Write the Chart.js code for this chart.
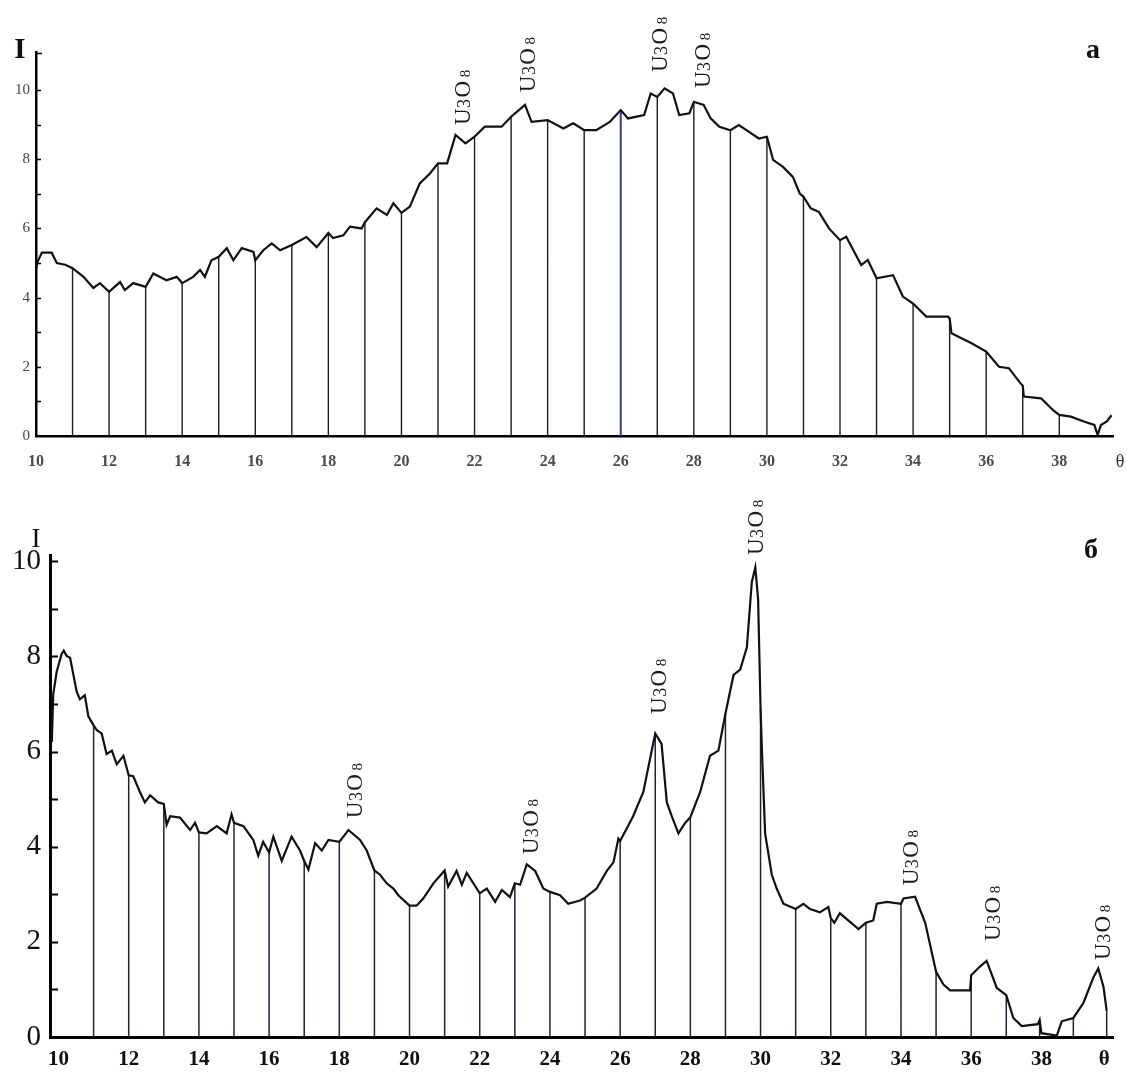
<!DOCTYPE html>
<html><head><meta charset="utf-8">
<script src="https://cdn.jsdelivr.net/npm/chart.js@4/dist/chart.umd.min.js"></script>
<style>
html,body{margin:0;padding:0;background:#fff;}
#wrapA{position:absolute;left:0;top:0;width:1127px;height:480px;}
#wrapB{position:absolute;left:0;top:480px;width:1127px;height:592px;}
canvas{display:block;}
</style></head><body>
<div id="wrapA"><canvas id="cA" width="1127" height="480"></canvas></div>
<div id="wrapB"><canvas id="cB" width="1127" height="592"></canvas></div>
<script>
// ---------- shared tick labels ----------
const xTicks = [10,12,14,16,18,20,22,24,26,28,30,32,34,36,38];
const yTicks = [0,2,4,6,8,10];
const yMinor = [1,2,3,4,5,6,7,8,9,10];

// ---------- panel а ----------
const thetaA = [
 10, 10.05, 10.16, 10.43, 10.57, 10.8, 11, 11.3, 11.57, 11.75,
 12, 12.3, 12.43, 12.66, 13, 13.21, 13.57, 13.85, 14, 14.3,
 14.49, 14.62, 14.8, 15, 15.22, 15.4, 15.63, 15.95, 16, 16.22,
 16.45, 16.68, 17, 17.4, 17.68, 18, 18.13, 18.41, 18.59, 18.91,
 19, 19.32, 19.6, 19.78, 20, 20.23, 20.5, 20.78, 21, 21.25,
 21.48, 21.75, 22, 22.28, 22.74, 23, 23.38, 23.56, 24, 24.43,
 24.7, 25, 25.33, 25.7, 26, 26.2, 26.64, 26.82, 27, 27.2,
 27.43, 27.6, 27.88, 28, 28.27, 28.46, 28.7, 29, 29.23, 29.5,
 29.78, 30, 30.17, 30.44, 30.71, 30.9, 31, 31.2, 31.42, 31.7,
 32, 32.17, 32.58, 32.76, 33, 33.45, 33.72, 34, 34.36, 34.95,
 35, 35.05, 35.6, 36, 36.35, 36.62, 36.94, 37, 37.03, 37.5,
 37.83, 38, 38.32, 38.69, 38.96, 39.05, 39.14, 39.3, 39.43
];
const intensityA = [
 4.85, 5.05, 5.3, 5.3, 5.0, 4.95, 4.85, 4.6, 4.28, 4.42,
 4.17, 4.45, 4.22, 4.42, 4.31, 4.7, 4.5, 4.6, 4.42, 4.6,
 4.8, 4.6, 5.08, 5.18, 5.43, 5.08, 5.43, 5.32, 5.08, 5.37,
 5.57, 5.37, 5.52, 5.75, 5.46, 5.87, 5.72, 5.8, 6.05, 6.0,
 6.18, 6.58, 6.39, 6.73, 6.45, 6.63, 7.3, 7.59, 7.88, 7.88,
 8.7, 8.46, 8.65, 8.94, 8.94, 9.23, 9.57, 9.08, 9.13, 8.89,
 9.04, 8.84, 8.84, 9.08, 9.42, 9.18, 9.28, 9.9, 9.8, 10.05,
 9.9, 9.28, 9.33, 9.66, 9.57, 9.18, 8.94, 8.84, 8.99, 8.8,
 8.6, 8.65, 7.98, 7.78, 7.49, 7.01, 6.92, 6.58, 6.48, 6.0,
 5.66, 5.76, 4.94, 5.09, 4.56, 4.65, 4.03, 3.83, 3.45, 3.45,
 3.4, 2.97, 2.68, 2.44, 2.0, 1.96, 1.52, 1.45, 1.14, 1.09,
 0.75, 0.61, 0.56, 0.41, 0.32, 0.03, 0.32, 0.42, 0.6
];
const stemThetaA = [11,12,13,14,15,16,17,18,19,20,21,22,23,24,25,27,28,29,30,31,32,33,34,35,36,37,38];
const stemHighlightA = [26];
const annotThetaA = [21.66, 23.43, 27.05, 28.22];
const annotIA = [8.99, 9.94, 10.52, 10.06];

// ---------- panel б ----------
const thetaB = [
 9.81, 9.85, 9.95, 10.09, 10.15, 10.23, 10.33, 10.52, 10.61, 10.75,
 10.85, 11, 11.09, 11.23, 11.37, 11.52, 11.66, 11.85, 12, 12.13,
 12.32, 12.46, 12.61, 12.84, 13, 13.08, 13.18, 13.46, 13.75, 13.89,
 14, 14.22, 14.51, 14.79, 14.93, 15, 15.27, 15.55, 15.69, 15.83,
 16, 16.12, 16.36, 16.64, 16.88, 17, 17.12, 17.31, 17.5, 17.69,
 18, 18.26, 18.59, 18.78, 19, 19.16, 19.35, 19.54, 19.68, 20,
 20.2, 20.39, 20.68, 21, 21.1, 21.34, 21.49, 21.63, 22, 22.2,
 22.44, 22.63, 22.86, 23, 23.15, 23.34, 23.58, 23.81, 24, 24.29,
 24.52, 24.86, 25, 25.33, 25.62, 25.81, 25.95, 26, 26.37, 26.66,
 26.9, 27, 27.18, 27.33, 27.47, 27.66, 27.85, 28, 28.28, 28.56,
 28.8, 29, 29.23, 29.42, 29.61, 29.75, 29.85, 29.93, 30, 30.04,
 30.13, 30.32, 30.46, 30.65, 31, 31.22, 31.41, 31.69, 31.93, 32,
 32.1, 32.26, 32.79, 33, 33.21, 33.31, 33.6, 34, 34.07, 34.4,
 34.69, 35, 35.21, 35.4, 35.97, 36, 36.25, 36.44, 36.73, 37,
 37.2, 37.44, 37.9, 37.95, 38, 38.44, 38.58, 38.91, 39.2, 39.48,
 39.62, 39.77, 39.86
];
const intensityB = [
 6.2, 7.2, 7.68, 8.05, 8.12, 8.01, 7.97, 7.25, 7.1, 7.18,
 6.74, 6.55, 6.45, 6.38, 5.95, 6.02, 5.73, 5.91, 5.5, 5.48,
 5.15, 4.93, 5.08, 4.93, 4.9, 4.46, 4.64, 4.61, 4.35, 4.5,
 4.3, 4.28, 4.43, 4.28, 4.68, 4.5, 4.43, 4.14, 3.81, 4.1,
 3.88, 4.21, 3.7, 4.21, 3.92, 3.7, 3.52, 4.07, 3.92, 4.14,
 4.1, 4.35, 4.14, 3.92, 3.5, 3.41, 3.23, 3.12, 2.98, 2.76,
 2.76, 2.91, 3.23, 3.5, 3.16, 3.49, 3.2, 3.45, 3.02, 3.12,
 2.84, 3.09, 2.94, 3.23, 3.2, 3.63, 3.49, 3.12, 3.05, 2.98,
 2.8, 2.87, 2.93, 3.12, 3.49, 3.67, 4.17, 4.12, 4.64, 5.15,
 6.02, 6.38, 6.16, 4.93, 4.64, 4.28, 4.5, 4.62, 5.15, 5.91,
 6.02, 6.8, 7.61, 7.72, 8.19, 9.56, 9.87, 9.2, 6.9, 6.0,
 4.28, 3.41, 3.12, 2.8, 2.69, 2.8, 2.69, 2.62, 2.73, 2.5,
 2.4, 2.6, 2.27, 2.4, 2.45, 2.8, 2.84, 2.8, 2.91, 2.95,
 2.4, 1.37, 1.1, 0.98, 0.98, 1.3, 1.48, 1.6, 1.03, 0.88,
 0.4, 0.23, 0.27, 0.36, 0.08, 0.03, 0.33, 0.4, 0.72, 1.25,
 1.44, 1.05, 0.55
];
const stemThetaB = [11,12,13,14,15,16,17,18,19,20,21,22,23,24,25,26,27,28,29,30,31,32,33,34,35,36,37,37.95,38.91,39.86];
const annotThetaB = [18.42, 23.43, 27.08, 29.84, 34.26, 36.6, 39.73];
const annotIB = [4.6, 3.84, 6.79, 10.13, 3.19, 2.02, 1.62];

// ---------- helpers ----------
const SERIF = "'Liberation Serif', 'DejaVu Serif', serif";

function curve(th, val) { return th.map((t, i) => ({x: t, y: val[i]})); }
function stems(list, th, val) {
  const out = [];
  list.forEach(t => {
    const i = th.indexOf(t);
    out.push({x: t, y: 0}, {x: t, y: val[i]}, {x: t, y: null});
  });
  return out;
}
function drawFormula(ctx, x, y, s) {
  ctx.save();
  ctx.translate(x, y);
  ctx.rotate(-Math.PI / 2);
  ctx.textAlign = 'left';
  ctx.textBaseline = 'alphabetic';
  const parts = [['U', 1, 0], ['3', 0.8, 0.02], ['O', 1, 0.06], ['8', 0.64, 0.16]];
  let cx = 0;
  const by = 0.34 * s;
  parts.forEach(([t, k, gap]) => {
    cx += gap * s;
    ctx.font = Math.round(s * k) + 'px ' + SERIF;
    ctx.fillText(t, cx, by);
    cx += ctx.measureText(t).width;
  });
  ctx.restore();
}
function makeDecor(o) {
  return {
    id: 'decor' + o.key,
    afterDraw(chart) {
      const ctx = chart.ctx, xs = chart.scales.x, ys = chart.scales.y, a = chart.chartArea;
      ctx.save();
      ctx.strokeStyle = '#000';
      ctx.lineWidth = o.tickWidth;
      o.minor.forEach(v => {
        const py = Math.round(ys.getPixelForValue(v)) + 0.5;
        ctx.beginPath(); ctx.moveTo(a.left, py); ctx.lineTo(a.left + o.tickLen, py); ctx.stroke();
      });
      if (o.topStub) {
        ctx.beginPath(); ctx.moveTo(a.left, a.top + 1.5); ctx.lineTo(a.left + o.topStub, a.top + 1.5); ctx.stroke();
      }
      ctx.fillStyle = '#1a1a1a';
      o.annTheta.forEach((t, i) => drawFormula(ctx, xs.getPixelForValue(t), ys.getPixelForValue(o.annI[i]), o.annSize));
      ctx.textAlign = 'center';
      ctx.textBaseline = 'middle';
      ctx.font = o.thetaFont;
      ctx.fillStyle = o.thetaColor;
      ctx.fillText('θ', xs.getPixelForValue(o.thetaAt), a.bottom + o.thetaDy);
      ctx.textBaseline = 'alphabetic';
      ctx.fillStyle = '#111';
      ctx.font = o.iFont;
      ctx.fillText('I', a.left + o.iDx, a.top + o.iDy);
      ctx.font = o.panelFont;
      ctx.fillText(o.panel, a.right + o.pDx, a.top + o.pDy);
      ctx.restore();
    }
  };
}
function setTicks(list) { return s => { s.ticks = list.map(v => ({value: v})); }; }

Chart.defaults.font.family = SERIF;

// ---------- chart а ----------
new Chart(document.getElementById('cA'), {
  type: 'line',
  data: { datasets: [
    { data: curve(thetaA, intensityA), borderColor: '#111', borderWidth: 2.2, pointRadius: 0, tension: 0, order: 0 },
    { data: stems(stemThetaA, thetaA, intensityA), borderColor: '#1e1e1e', borderWidth: 1.4, pointRadius: 0, spanGaps: false, order: 1 },
    { data: stems(stemHighlightA, thetaA, intensityA), borderColor: '#3434b0', borderWidth: 2, pointRadius: 0, spanGaps: false, order: 1 }
  ]},
  options: {
    responsive: false, animation: false, devicePixelRatio: 1,
    layout: { padding: { left: 0, right: 14, top: 52, bottom: 4 } },
    plugins: { legend: { display: false }, tooltip: { enabled: false } },
    scales: {
      x: {
        type: 'linear', min: 10, max: 39.47,
        afterBuildTicks: setTicks(xTicks),
        afterFit: s => { s.height = 40; },
        grid: { drawOnChartArea: false, drawTicks: false },
        border: { color: '#000', width: 2.5 },
        ticks: { autoSkip: false, maxRotation: 0, padding: 16, color: '#4a4a4a', font: { size: 16, weight: 'bold', family: SERIF } }
      },
      y: {
        type: 'linear', min: 0, max: 11.1,
        afterBuildTicks: setTicks(yTicks),
        afterFit: s => { s.width = 36; },
        grid: { drawOnChartArea: false, drawTicks: false },
        border: { color: '#000', width: 2.5 },
        ticks: { padding: 6, color: '#444', font: { size: 15, family: SERIF } }
      }
    }
  },
  plugins: [makeDecor({
    key: 'A', minor: yMinor, tickLen: 5, tickWidth: 1.5, topStub: 6,
    annTheta: annotThetaA, annI: annotIA, annSize: 23,
    thetaAt: 39.66, thetaDy: 26, thetaFont: '18px ' + SERIF, thetaColor: '#333',
    iFont: 'bold 29px ' + SERIF, iDx: -16, iDy: 6,
    panel: 'а', panelFont: 'bold 28px ' + SERIF, pDx: -20, pDy: 6
  })]
});

// ---------- chart б ----------
new Chart(document.getElementById('cB'), {
  type: 'line',
  data: { datasets: [
    { data: curve(thetaB, intensityB), borderColor: '#111', borderWidth: 2.2, pointRadius: 0, tension: 0, order: 0 },
    { data: stems(stemThetaB, thetaB, intensityB), borderColor: '#22223a', borderWidth: 1.5, pointRadius: 0, spanGaps: false, order: 1 }
  ]},
  options: {
    responsive: false, animation: false, devicePixelRatio: 1,
    layout: { padding: { left: 0, right: 14, top: 75, bottom: 0 } },
    plugins: { legend: { display: false }, tooltip: { enabled: false } },
    scales: {
      x: {
        type: 'linear', min: 9.758, max: 40.04,
        afterBuildTicks: setTicks(xTicks),
        afterFit: s => { s.height = 35; },
        grid: { drawOnChartArea: false, drawTicks: false },
        border: { color: '#000', width: 3 },
        ticks: { autoSkip: false, maxRotation: 0, padding: 10, color: '#111', font: { size: 21, weight: 'bold', family: SERIF } }
      },
      y: {
        type: 'linear', min: 0, max: 10.13,
        afterBuildTicks: setTicks(yTicks),
        afterFit: s => { s.width = 50; },
        grid: { drawOnChartArea: false, drawTicks: false },
        border: { color: '#000', width: 3 },
        ticks: { padding: 9, color: '#111', font: { size: 29, family: SERIF } }
      }
    }
  },
  plugins: [makeDecor({
    key: 'B', minor: yMinor, tickLen: 8, tickWidth: 2, topStub: 0,
    annTheta: annotThetaB, annI: annotIB, annSize: 23,
    thetaAt: 39.79, thetaDy: 23, thetaFont: 'bold 21px ' + SERIF, thetaColor: '#111',
    iFont: '27px ' + SERIF, iDx: -14, iDy: -8,
    panel: 'б', panelFont: 'bold 28px ' + SERIF, pDx: -22, pDy: 3
  })]
});
</script>
</body></html>
